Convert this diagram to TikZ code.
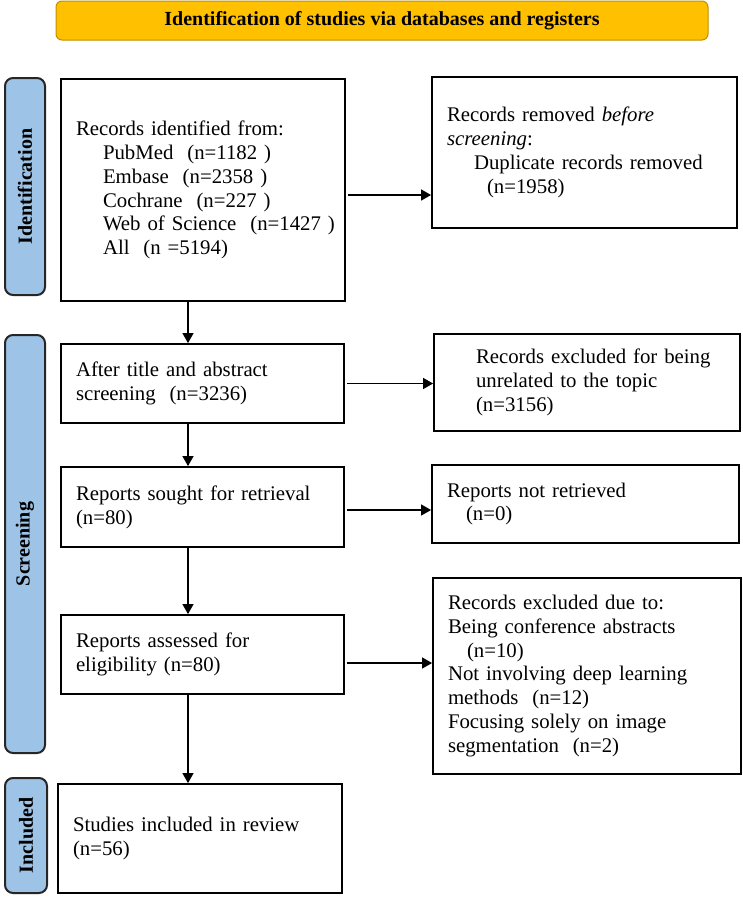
\documentclass[tikz,border=0pt]{standalone}
\usepackage{fontspec}
\setmainfont{Liberation Serif}
\usepackage{tikz}
\usetikzlibrary{arrows.meta, positioning}
\definecolor{bannergold}{RGB}{255,192,0}
\definecolor{bannerrim}{RGB}{191,144,0}
\definecolor{barblue}{RGB}{157,195,230}
\definecolor{bardark}{RGB}{38,38,38}
\tikzset{
  block/.style={rectangle, draw=black, line width=1.8pt, inner xsep=15pt,
    inner ysep=0pt, align=left, font=\fontsize{20.8pt}{23.8pt}\selectfont},
  sidebar/.style={rectangle, draw=bardark, fill=barblue, rounded corners=8pt,
    line width=2pt, inner sep=0pt, rotate=90,
    font=\bfseries\fontsize{20pt}{22pt}\selectfont},
  banner/.style={rectangle, draw=bannerrim, fill=bannergold, rounded corners=6pt,
    line width=1pt, inner sep=0pt, font=\bfseries\fontsize{20pt}{22pt}\selectfont},
  arrow/.style={-{Triangle[length=10pt, width=11pt]}, line width=1.2pt, color=black}
}

\begin{document}
\begin{tikzpicture}[x=1pt, y=-1pt]
  \useasboundingbox (0,0) rectangle (742,897);
  \coordinate (spine) at (188,0);

  \node[banner, minimum width=652pt, minimum height=39pt] (heading) at (382,20.5)
    {Identification of studies via databases and registers};

  \node[sidebar, minimum width=217pt, minimum height=40pt] (idbar) at (25,186.5) {Identification};
  \node[sidebar, minimum width=418pt, minimum height=40pt] (scrbar) at (25,544) {Screening};
  \node[sidebar, minimum width=115pt, minimum height=42pt] (incbar) at (26,835.5) {Included};

  \node[block, text width=254pt, minimum height=222pt] (records) at (203,190)
    {Records identified from:\\
     \hspace*{27pt}\mbox{PubMed\ \ (n=1182\ )}\\
     \hspace*{27pt}\mbox{Embase\ \ (n=2358\ )}\\
     \hspace*{27pt}\mbox{Cochrane\ \ (n=227\ )}\\
     \hspace*{27pt}\mbox{Web of Science\ \ (n=1427\ )}\\
     \hspace*{27pt}\mbox{All\ \ (n =5194)}};
  \node[block, text width=275pt, minimum height=151pt] (removed) at (584.5,152.5)
    {Records removed \textit{before}\\
     \textit{screening}:\\
     \hspace*{27pt}Duplicate records removed\\
     \hspace*{40pt}(n=1958)};

  \node[block, text width=253pt, minimum height=79pt] (titleabs) at (202.5,383.5)
    {After title and abstract\\
     screening\ \ (n=3236)};
  \node[block, text width=276pt, minimum height=97pt] (unrelated) at (587,382.5)
    {\hspace*{27pt}Records excluded for being\\
     \hspace*{27pt}unrelated to the topic\\
     \hspace*{27pt}(n=3156)};

  \node[block, text width=253pt, minimum height=80pt] (sought) at (202.5,507)
    {Reports sought for retrieval\\
     (n=80)};
  \node[block, text width=277pt, minimum height=78pt] (notretrieved) at (585.5,504)
    {Reports not retrieved\\
     \hspace*{19pt}(n=0)};

  \node[block, text width=253pt, minimum height=79pt] (assessed) at (202.5,654.5)
    {Reports assessed for\\
     eligibility (n=80)};
  \node[block, text width=278pt, minimum height=196pt] (excluded) at (587,676)
    {Records excluded due to:\\
     Being conference abstracts\\
     \hspace*{19pt}(n=10)\\
     Not involving deep learning\\
     methods\ \ (n=12)\\
     Focusing solely on image\\
     segmentation\ \ (n=2)};

  \node[block, text width=254pt, minimum height=109pt] (included) at (200,838.5)
    {Studies included in review\\
     (n=56)};

  \draw[arrow] (records.south -| spine) -- (titleabs.north -| spine);
  \draw[arrow] (titleabs.south -| spine) -- (sought.north -| spine);
  \draw[arrow] (sought.south -| spine) -- (assessed.north -| spine);
  \draw[arrow] (assessed.south -| spine) -- (included.north -| spine);

  \draw[arrow, shorten <=2pt] (records.east |- 0,195) -- (removed.west |- 0,195);
  \draw[arrow, shorten <=2pt] (titleabs.east) -- (titleabs.east -| unrelated.west);
  \draw[arrow, shorten <=2pt] (sought.east |- 0,510) -- (notretrieved.west |- 0,510);
  \draw[arrow, shorten <=2pt] (assessed.east |- 0,663) -- (excluded.west |- 0,663);
\end{tikzpicture}
\end{document}
